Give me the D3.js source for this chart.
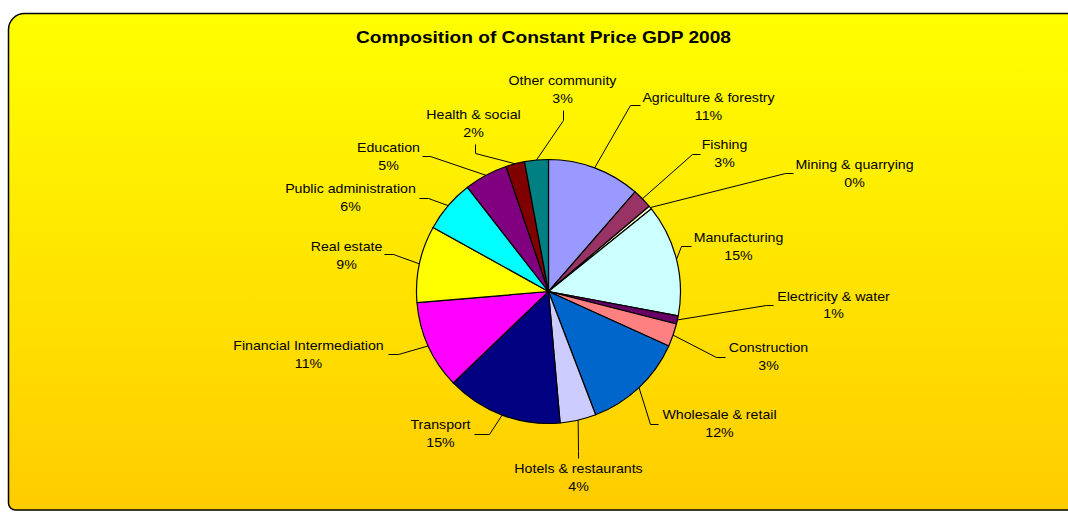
<!DOCTYPE html>
<html>
<head>
<meta charset="utf-8">
<script src="https://cdn.jsdelivr.net/npm/d3@7"></script>
<style>
  body { margin: 0; background: #fff; }
  text { font-family: "Liberation Sans", Arial, sans-serif; fill: #000; }
</style>
</head>
<body>
<svg id="chart"></svg>
<script>
// data (share of GDP, %)
var sectors = ["Agriculture & forestry", "Fishing", "Mining & quarrying", "Manufacturing",
    "Electricity & water", "Construction", "Wholesale & retail", "Hotels & restaurants",
    "Transport", "Financial Intermediation", "Real estate", "Public administration",
    "Education", "Health & social", "Other community"]
var shares = [11.35, 2.45, 0.4, 13.7, 1.0, 2.8, 12.4, 4.4, 14.2, 10.8, 9.4, 6.4, 5.3, 2.3, 2.9]
var shareLabels = ["11%", "3%", "0%", "15%", "1%", "3%", "12%", "4%", "15%", "11%", "9%", "6%", "5%", "2%", "3%"]
var colors = ["#9999FF", "#993366", "#FFFFCC", "#CCFFFF", "#660066", "#FF8080", "#0066CC",
    "#CCCCFF", "#000080", "#FF00FF", "#FFFF00", "#00FFFF", "#800080", "#800000", "#008080"]

// label layout, offsets from the pie centre: text centre x / first baseline y, elbow, line end
var labelLayout = {
    "Agriculture & forestry":   {tx: 160, ty: -190, ex: 82, ey: -186, hx: 92, hy: -186},
    "Fishing":                  {tx: 176, ty: -143, ex: 144, ey: -137, hx: 152, hy: -137},
    "Mining & quarrying":       {tx: 306, ty: -123, ex: 237, ey: -118, hx: 245, hy: -118},
    "Manufacturing":            {tx: 190, ty: -50, ex: 133, ey: -45, hx: 143, hy: -45},
    "Electricity & water":      {tx: 285, ty: 9, ex: 218, ey: 14, hx: 225, hy: 14},
    "Construction":             {tx: 220, ty: 61, ex: 168, ey: 66, hx: 177, hy: 66},
    "Wholesale & retail":       {tx: 171, ty: 128, ex: 102, ey: 133, hx: 110, hy: 133},
    "Hotels & restaurants":     {tx: 30, ty: 182, ex: 30, ey: 160, hx: 30, hy: 167},
    "Transport":                {tx: -108, ty: 138, ex: -59, ey: 143, hx: -74, hy: 143},
    "Financial Intermediation": {tx: -240, ty: 59, ex: -150, ey: 63, hx: -160, hy: 63},
    "Real estate":              {tx: -202, ty: -41, ex: -155, ey: -37, hx: -164, hy: -37},
    "Public administration":    {tx: -198, ty: -99, ex: -120, ey: -93, hx: -129, hy: -93},
    "Education":                {tx: -160, ty: -140, ex: -118, ey: -135, hx: -126, hy: -135},
    "Health & social":          {tx: -75, ty: -173, ex: -73, ey: -138, hx: -73, hy: -147},
    "Other community":          {tx: 14, ty: -207, ex: 15, ey: -171, hx: 15, hy: -181}
}

var drawFrame = function(svg, screen)
{
    var grad = svg.append("defs")
        .append("linearGradient")
        .attr("id", "bg")
        .attr("x1", 0).attr("y1", 0).attr("x2", 0).attr("y2", 1)
    grad.append("stop").attr("offset", "0%").attr("stop-color", "#FFFF00")
    grad.append("stop").attr("offset", "100%").attr("stop-color", "#FFCC00")

    var l = 8.5, t = 13.5, r = screen.width + 10, b = 510
    var path = "M" + l + "," + (t + 16) +
        " A16,16 0 0 1 " + (l + 16) + "," + t +
        " L" + r + "," + t +
        " L" + r + "," + b +
        " L" + (l + 7) + "," + b +
        " A7,7 0 0 1 " + l + "," + (b - 7) + " Z"
    svg.append("path")
        .attr("d", path)
        .attr("fill", "url(#bg)")
        .attr("stroke", "#000")
        .attr("stroke-width", 1.5)
}

var drawPie = function(svg, pie, centre, radius)
{
    var arc = d3.arc().innerRadius(0).outerRadius(radius)
    svg.append("g")
        .attr("transform", "translate(" + centre.x + "," + centre.y + ")")
        .selectAll("path")
        .data(pie)
        .enter()
        .append("path")
        .attr("d", arc)
        .attr("fill", function(d) { return colors[d.index] })
        .attr("stroke", "#000")
        .attr("stroke-width", 1.2)
        .attr("stroke-linejoin", "round")
}

var drawLabels = function(svg, pie, centre, radius)
{
    var rim = d3.arc().innerRadius(radius).outerRadius(radius)
    var g = svg.append("g")
        .attr("transform", "translate(" + centre.x + "," + centre.y + ")")

    pie.forEach(function(d)
    {
        var lay = labelLayout[sectors[d.index]]
        var p = rim.centroid(d)
        g.append("polyline")
            .attr("points", [p, [lay.ex, lay.ey], [lay.hx, lay.hy]].map(function(q) { return q.join(",") }).join(" "))
            .attr("fill", "none")
            .attr("stroke", "#000")
            .attr("stroke-width", 1)

        // the original text is a touch wider than Arial, stretch it a little
        var txt = g.append("text")
            .attr("text-anchor", "middle")
            .attr("font-size", 13.5)
            .attr("transform", "translate(" + lay.tx + ",0) scale(1.05,1)")
        txt.append("tspan")
            .attr("x", 0).attr("y", lay.ty)
            .text(sectors[d.index])
        txt.append("tspan")
            .attr("x", 0).attr("y", lay.ty + 18)
            .text(shareLabels[d.index])
    })
}

var initChart = function()
{
    var screen = {width: 1068, height: 512}
    var centre = {x: 548.5, y: 291.5}
    var radius = 132

    var svg = d3.select("#chart")
        .attr("width", screen.width)
        .attr("height", screen.height)

    drawFrame(svg, screen)

    var pie = d3.pie().sort(null)(shares)
    drawPie(svg, pie, centre, radius)
    drawLabels(svg, pie, centre, radius)

    //title
    svg.append("text")
        .text("Composition of Constant Price GDP 2008")
        .attr("text-anchor", "middle")
        .attr("font-weight", "bold")
        .attr("font-size", 17)
        .attr("textLength", 375)
        .attr("lengthAdjust", "spacingAndGlyphs")
        .attr("x", 543.5)
        .attr("y", 43)
}

initChart()
</script>
</body>
</html>
